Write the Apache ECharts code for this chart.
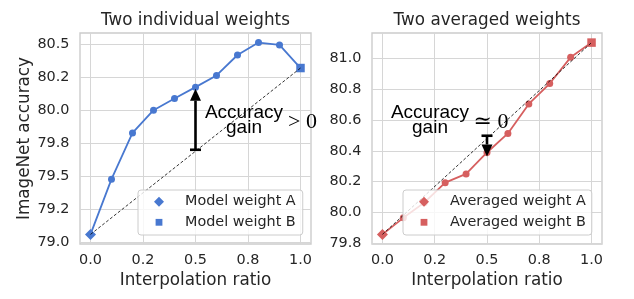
<!DOCTYPE html>
<html>
<head>
<meta charset="utf-8">
<script src="https://cdn.jsdelivr.net/npm/echarts@6/dist/echarts.min.js"></script>
<style>
html,body{margin:0;padding:0;background:#fff;}
#chart{width:634px;height:299px;}
</style>
</head>
<body>
<div id="chart"></div>
<script>
// ---------------- data ----------------
const ratios = [0, 0.1, 0.2, 0.3, 0.4, 0.5, 0.6, 0.7, 0.8, 0.9, 1.0];
const individualAcc = [79.056, 79.475, 79.826, 79.998, 80.087, 80.173, 80.262, 80.417, 80.511, 80.493, 80.318];
const averagedAcc = [79.855, 79.963, 80.062, 80.192, 80.249, 80.389, 80.513, 80.705, 80.838, 81.009, 81.105];

const xTicks = [0, 0.25, 0.5, 0.75, 1.0];
const xTickLabels = ['0.0', '0.2', '0.5', '0.8', '1.0'];
const leftYTicks = [79.0, 79.25, 79.5, 79.75, 80.0, 80.25, 80.5];
const leftYLabels = ['79.0', '79.2', '79.5', '79.8', '80.0', '80.2', '80.5'];
const rightYTicks = [79.8, 80.0, 80.2, 80.4, 80.6, 80.8, 81.0];
const rightYLabels = ['79.8', '80.0', '80.2', '80.4', '80.6', '80.8', '81.0'];

// arrows: [x, tail value, head value]
const leftArrow = [0.5, 79.698, 80.161];
const rightArrow = [0.5, 80.498, 80.363];

const titles = ['Two individual weights', 'Two averaged weights'];
const legendNamesLeft = ['Model weight A', 'Model weight B'];
const legendNamesRight = ['Averaged weight A', 'Averaged weight B'];

// ---------------- styling ----------------
const FONT = '"DejaVu Sans", sans-serif';
const TXT = '#262626';
const BLUE = '#4878d0';
const RED = '#d65f5f';
const GRID_C = '#d6d6d6';

function paddedRange(vals) {
  const lo = Math.min(...vals), hi = Math.max(...vals), m = (hi - lo) * 0.05;
  return [lo - m, hi + m];
}
function lookup(ticks, labels) {
  return v => { const i = ticks.findIndex(t => Math.abs(t - v) < 1e-6); return i >= 0 ? labels[i] : ''; };
}
const xr = paddedRange(ratios);
const lyr = paddedRange(individualAcc);
const ryr = paddedRange(averagedAcc);

const grids = [
  {left: 80, top: 33, width: 231, height: 211},
  {left: 372, top: 33, width: 230, height: 211}
];

function xAxis(gi) {
  return {
    type: 'value', gridIndex: gi, min: xr[0], max: xr[1],
    name: 'Interpolation ratio', nameLocation: 'middle', nameGap: 28,
    nameTextStyle: {fontFamily: FONT, fontSize: 16.8, color: TXT},
    axisLine: {show: false}, axisTick: {show: false, customValues: xTicks},
    axisLabel: {customValues: xTicks, formatter: lookup(xTicks, xTickLabels), fontFamily: FONT, fontSize: 14.4, color: TXT, margin: 9.5},
    splitLine: {show: true, lineStyle: {color: GRID_C, width: 1}}
  };
}
function yAxis(gi, range, ticks, labels, withName) {
  return {
    type: 'value', gridIndex: gi, min: range[0], max: range[1],
    name: withName ? 'ImageNet accuracy' : '', nameLocation: 'middle', nameGap: 46,
    nameTextStyle: {fontFamily: FONT, fontSize: 16.8, color: TXT},
    axisLine: {show: false}, axisTick: {show: false, customValues: ticks},
    axisLabel: {customValues: ticks, formatter: lookup(ticks, labels), fontFamily: FONT, fontSize: 14.4, color: TXT, margin: 10.5},
    splitLine: {show: true, lineStyle: {color: GRID_C, width: 1}}
  };
}

function panelSeries(gi, vals, color, names, arrow) {
  const n = vals.length;
  const pts = ratios.map((x, i) => {
    const d = {value: [x, vals[i]]};
    if (i === 0 || i === n - 1) d.symbol = 'none';
    return d;
  });
  return [
    {type: 'line', xAxisIndex: gi, yAxisIndex: gi, data: pts, symbol: 'circle', symbolSize: 7,
     lineStyle: {color: color, width: 1.8}, itemStyle: {color: color, opacity: 1}, z: 2, silent: true},
    {type: 'scatter', name: names[0], xAxisIndex: gi, yAxisIndex: gi, data: [[ratios[0], vals[0]]],
     symbol: 'diamond', symbolSize: 11, itemStyle: {color: color, opacity: 1}, z: 2, silent: true},
    {type: 'scatter', name: names[1], xAxisIndex: gi, yAxisIndex: gi, data: [[ratios[n - 1], vals[n - 1]]],
     symbol: 'rect', symbolSize: 8.5, itemStyle: {color: color, opacity: 1}, z: 2, silent: true},
    {type: 'line', xAxisIndex: gi, yAxisIndex: gi, data: [[ratios[0], vals[0]], [ratios[n - 1], vals[n - 1]]],
     symbol: 'none', lineStyle: {color: '#000', width: 0.8, type: [3, 2]}, z: 3, silent: true},
    {type: 'custom', xAxisIndex: gi, yAxisIndex: gi, data: [arrow], encode: {x: 0, y: [1, 2]}, z: 5, silent: true,
     renderItem: (params, api) => {
       const x = api.value(0), y0 = api.value(1), y1 = api.value(2);
       const p0 = api.coord([x, y0]), p1 = api.coord([x, y1]);
       const dir = Math.sign(p1[1] - p0[1]);
       const headLen = 12, headW = 11, barW = 11;
       const base = p1[1] - dir * headLen;
       return {type: 'group', children: [
         {type: 'line', shape: {x1: p0[0], y1: p0[1], x2: p0[0], y2: base}, style: {stroke: '#000', lineWidth: 2.6}},
         {type: 'line', shape: {x1: p0[0] - barW / 2, y1: p0[1], x2: p0[0] + barW / 2, y2: p0[1]}, style: {stroke: '#000', lineWidth: 2.6}},
         {type: 'polygon', shape: {points: [[p1[0], p1[1]], [p1[0] - headW / 2, base], [p1[0] + headW / 2, base]]}, style: {fill: '#000'}}
       ]};
     }}
  ];
}

const smallSquare = 'path://M0,0 M1.6,1.6 L8.4,1.6 L8.4,8.4 L1.6,8.4 Z M10,10';

function legend(left, names, padRight) {
  return {
    data: [{name: names[0], icon: 'diamond', itemStyle: {opacity: 1}}, {name: names[1], icon: smallSquare, itemStyle: {opacity: 1}}],
    orient: 'vertical', left: left, top: 190, itemWidth: 10, itemHeight: 10, itemGap: 4.6,
    padding: [3.7, padRight, 4.7, 16], backgroundColor: 'rgba(255,255,255,0.8)',
    borderColor: '#cccccc', borderWidth: 1, borderRadius: 3, selectedMode: false,
    textStyle: {fontFamily: FONT, fontSize: 14.4, color: TXT, lineHeight: 16, padding: [0, 0, 0, 16]}
  };
}

function textEl(x, y, text, font, fill, lineHeight) {
  return {type: 'text', x: x, y: y, silent: true, z: 10,
    style: {text: text, font: font, fill: fill, align: 'center', verticalAlign: 'middle', lineHeight: lineHeight}};
}

const chart = echarts.init(document.getElementById('chart'), null, {renderer: 'canvas'});
chart.setOption({
  animation: false,
  backgroundColor: '#fff',
  grid: grids.map(g => Object.assign({show: true, borderColor: '#cccccc', borderWidth: 1.4, backgroundColor: '#fff'}, g)),
  xAxis: [xAxis(0), xAxis(1)],
  yAxis: [yAxis(0, lyr, leftYTicks, leftYLabels, true), yAxis(1, ryr, rightYTicks, rightYLabels, false)],
  legend: [legend(138, legendNamesLeft, 7), legend(403, legendNamesRight, 6)],
  series: [].concat(panelSeries(0, individualAcc, BLUE, legendNamesLeft, leftArrow),
                    panelSeries(1, averagedAcc, RED, legendNamesRight, rightArrow)),
  graphic: [
    textEl(grids[0].left + grids[0].width / 2, 20.5, titles[0], '16.8px "DejaVu Sans"', TXT),
    textEl(grids[1].left + grids[1].width / 2, 20.5, titles[1], '16.8px "DejaVu Sans"', TXT),
    textEl(244, 120.5, 'Accuracy\ngain', '19px "Liberation Sans"', '#000', 15.5),
    textEl(302.5, 122, '> 0', '22px "Liberation Serif", "DejaVu Serif"', '#000'),
    textEl(430, 120.5, 'Accuracy\ngain', '19px "Liberation Sans"', '#000', 15.5),
    textEl(491, 122, '\u2243 0', '22px "Liberation Serif", "DejaVu Serif"', '#000')
  ]
});
</script>
</body>
</html>
